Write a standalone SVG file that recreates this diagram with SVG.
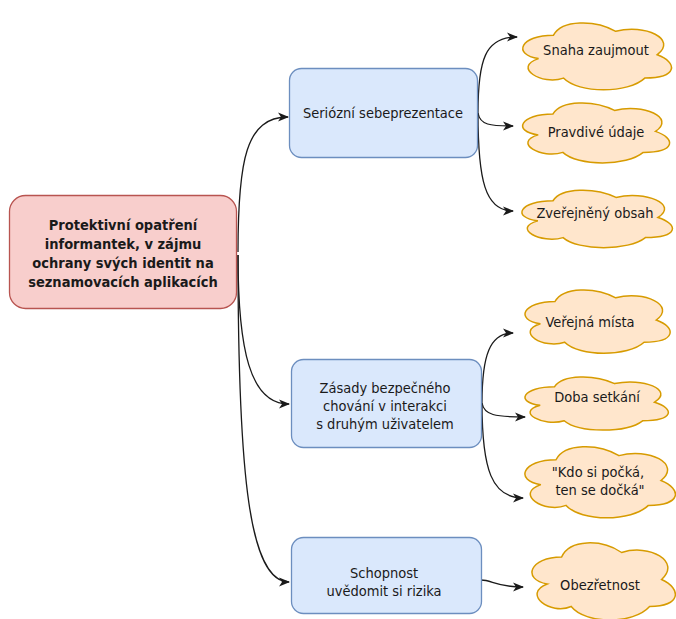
<svg xmlns="http://www.w3.org/2000/svg" xmlns:xlink="http://www.w3.org/1999/xlink" width="676" height="619" viewBox="0 0 676 619">
<style>
text{font-family:"DejaVu Sans Condensed","DejaVu Sans",sans-serif;font-size:14.5px;fill:#1a1a1a;text-anchor:middle}
.root rect{fill:#f8cecc;stroke:#b85450;stroke-width:1.3}
.root text{font-weight:bold}
.box rect{fill:#dae8fc;stroke:#6c8ebf;stroke-width:1.3}
.cloud use{fill:#ffe6cc;stroke:#d79b00;stroke-width:1.5}
.edges path{fill:none;stroke:#1a1a1a;stroke-width:1.3;marker-end:url(#arr)}
</style>
<defs>
<path id="cl" vector-effect="non-scaling-stroke" d="M25,25 C5,25 0,50 16,55 C0,66 18,90 31,80 C40,100 70,100 80,80 C100,80 100,60 87.5,50 C100,30 80,10 62.5,20 C50,5 30,5 25,25 Z"/>
<marker id="arr" markerUnits="userSpaceOnUse" markerWidth="12" markerHeight="10" refX="10" refY="4.5" orient="auto" viewBox="0 0 12 9">
<path d="M0,0 L11,4.5 L0,9 L3,4.5 Z" fill="#1a1a1a"/>
</marker>
</defs>
<rect width="676" height="619" fill="#ffffff"/>
<g class="edges">
<path d="M238,252 C238,160 246,117 288,117"/>
<path d="M238,255 C238,350 250,404 289,404"/>
<path d="M238,255 C238,480 250,582 289,582"/>
<path d="M478,113 C478,60 485,37 517,37"/>
<path d="M478,113 C480,125 490,126 513,126"/>
<path d="M478,113 C478,180 485,211 513,211"/>
<path d="M482,403 C482,355 490,333 513,333"/>
<path d="M482,403 C484,415 495,417 525,417"/>
<path d="M482,403 C482,470 492,498 523,498"/>
<path d="M481,580 C492,580 496,587 523,587"/>
</g>
<g id="root" class="root">
<rect x="9.5" y="195.5" width="227" height="113" rx="16"/>
<text x="123" y="230">Protektivní opatření</text>
<text x="123" y="249">informantek, v zájmu</text>
<text x="123" y="268">ochrany svých identit na</text>
<text x="123" y="287">seznamovacích aplikacích</text>
</g>
<g id="n1" class="box">
<rect x="289.5" y="68.5" width="188" height="89" rx="12"/>
<text x="383" y="118">Seriózní sebeprezentace</text>
</g>
<g id="n2" class="box">
<rect x="291.5" y="359.5" width="190" height="88" rx="12"/>
<text x="385" y="393">Zásady bezpečného</text>
<text x="385" y="411">chování v interakci</text>
<text x="385" y="429">s druhým uživatelem</text>
</g>
<g id="n3" class="box">
<rect x="291.5" y="537.5" width="190" height="76" rx="12"/>
<text x="384" y="578">Schopnost</text>
<text x="384" y="596">uvědomit si rizika</text>
</g>
<g id="c1" class="cloud">
<use xlink:href="#cl" transform="translate(512,15.7) scale(1.66,0.78)"/>
<text x="596" y="55">Snaha zaujmout</text>
</g>
<g id="c2" class="cloud">
<use xlink:href="#cl" transform="translate(512,96.4) scale(1.64,0.70)"/>
<text x="596" y="137">Pravdivé údaje</text>
</g>
<g id="c3" class="cloud">
<use xlink:href="#cl" transform="translate(511,184) scale(1.68,0.67)"/>
<text x="595" y="218">Zveřejněný obsah</text>
</g>
<g id="c4" class="cloud">
<use xlink:href="#cl" transform="translate(514.5,283) scale(1.62,0.74)"/>
<text x="590" y="327">Veřejná místa</text>
</g>
<g id="c5" class="cloud">
<use xlink:href="#cl" transform="translate(514.6,371.2) scale(1.60,0.62)"/>
<text x="597" y="402">Doba setkání</text>
</g>
<g id="c6" class="cloud">
<use xlink:href="#cl" transform="translate(514,439) scale(1.68,0.83)"/>
<text x="598" y="477">"Kdo si počká,</text>
<text x="600" y="495">ten se dočká"</text>
</g>
<g id="c7" class="cloud">
<use xlink:href="#cl" transform="translate(521.6,534.5) scale(1.60,0.90)"/>
<text x="600" y="590">Obezřetnost</text>
</g>
</svg>
